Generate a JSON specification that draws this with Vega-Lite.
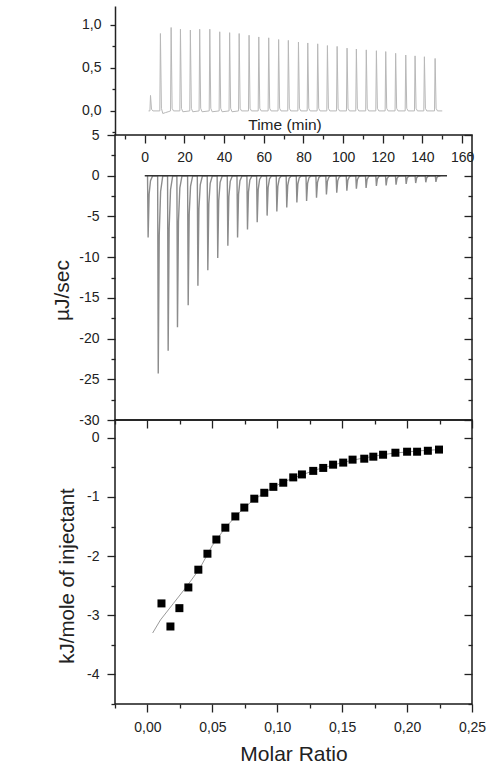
{
  "$schema": "https://vega.github.io/schema/vega-lite/v6.json",
  "background": "white",
  "padding": {"left": 50, "top": 6, "right": 5, "bottom": 5},
  "spacing": 0,
  "bounds": "flush",
  "config": {
    "font": "Liberation Sans",
    "view": {"stroke": "#1a1a1a", "strokeWidth": 1.5},
    "axis": {"labelFont": "Liberation Sans", "titleFont": "Liberation Sans", "labelFontSize": 14, "labelColor": "#222", "titleColor": "#222", "titleFontWeight": "normal", "tickColor": "#222", "tickWidth": 1.3, "domainColor": "#222", "domainWidth": 1.5, "grid": false, "labelFlush": false, "labelOverlap": false}
  },
  "datasets": {
    "raw": [
      {"t":1.9,"v":0},
      {"t":2.6,"v":0},{"t":2.9,"v":0.18},{"t":3.4,"v":0.02},{"t":4.1,"v":0},
      {"t":7.6,"v":0},{"t":7.9,"v":0.90},{"t":8.4,"v":0.03},{"t":9.1,"v":-0.03},{"t":10.4,"v":-0.02},{"t":11.8,"v":-0.01},
      {"t":13.0,"v":0},{"t":13.3,"v":0.97},{"t":13.8,"v":0.03},{"t":14.5,"v":0},
      {"t":17.7,"v":0},{"t":18.0,"v":0.95},{"t":18.5,"v":0.03},{"t":19.2,"v":-0.01},
      {"t":22.7,"v":0},{"t":23.0,"v":0.94},{"t":23.5,"v":0.03},{"t":24.2,"v":-0.01},
      {"t":27.4,"v":0},{"t":27.7,"v":0.95},{"t":28.2,"v":0.03},{"t":28.9,"v":-0.01},
      {"t":32.5,"v":0},{"t":32.8,"v":0.95},{"t":33.3,"v":0.03},{"t":34.0,"v":-0.01},
      {"t":37.5,"v":0},{"t":37.8,"v":0.92},{"t":38.3,"v":0.03},{"t":39.0,"v":-0.01},
      {"t":42.5,"v":0},{"t":42.8,"v":0.91},{"t":43.3,"v":0.03},{"t":44.0,"v":-0.01},
      {"t":47.3,"v":0},{"t":47.6,"v":0.90},{"t":48.1,"v":0.03},{"t":48.8,"v":0},
      {"t":52.3,"v":0},{"t":52.6,"v":0.88},{"t":53.1,"v":0.03},{"t":53.8,"v":0},
      {"t":57.2,"v":0},{"t":57.5,"v":0.86},{"t":58.0,"v":0.03},{"t":58.7,"v":0},
      {"t":62.2,"v":0},{"t":62.5,"v":0.85},{"t":63.0,"v":0.03},{"t":63.7,"v":0},
      {"t":67.2,"v":0},{"t":67.5,"v":0.83},{"t":68.0,"v":0.03},{"t":68.7,"v":0},
      {"t":72.1,"v":0},{"t":72.4,"v":0.82},{"t":72.9,"v":0.03},{"t":73.6,"v":0},
      {"t":77.2,"v":0},{"t":77.5,"v":0.80},{"t":78.0,"v":0.03},{"t":78.7,"v":0},
      {"t":81.9,"v":0},{"t":82.2,"v":0.79},{"t":82.7,"v":0.03},{"t":83.4,"v":0},
      {"t":86.9,"v":0},{"t":87.2,"v":0.78},{"t":87.7,"v":0.03},{"t":88.4,"v":0},
      {"t":91.8,"v":0},{"t":92.1,"v":0.76},{"t":92.6,"v":0.03},{"t":93.3,"v":0},
      {"t":96.7,"v":0},{"t":97.0,"v":0.75},{"t":97.5,"v":0.03},{"t":98.2,"v":0},
      {"t":101.7,"v":0},{"t":102.0,"v":0.73},{"t":102.5,"v":0.03},{"t":103.2,"v":0},
      {"t":106.4,"v":0},{"t":106.7,"v":0.72},{"t":107.2,"v":0.03},{"t":107.9,"v":0},
      {"t":111.4,"v":0},{"t":111.7,"v":0.71},{"t":112.2,"v":0.03},{"t":112.9,"v":0},
      {"t":116.5,"v":0},{"t":116.8,"v":0.70},{"t":117.3,"v":0.03},{"t":118.0,"v":0},
      {"t":121.2,"v":0},{"t":121.5,"v":0.69},{"t":122.0,"v":0.03},{"t":122.7,"v":0},
      {"t":126.2,"v":0},{"t":126.5,"v":0.67},{"t":127.0,"v":0.03},{"t":127.7,"v":0},
      {"t":131.3,"v":0},{"t":131.6,"v":0.65},{"t":132.1,"v":0.03},{"t":132.8,"v":0},
      {"t":136.0,"v":0},{"t":136.3,"v":0.64},{"t":136.8,"v":0.03},{"t":137.5,"v":0},
      {"t":140.7,"v":0},{"t":141.0,"v":0.63},{"t":141.5,"v":0.03},{"t":142.2,"v":0},
      {"t":146.1,"v":0},{"t":146.4,"v":0.61},{"t":146.9,"v":0.03},{"t":147.6,"v":0},
      {"t":150.0,"v":0}
    ],
    "spikes": [
      {"t":1.4,"v":0},{"t":1.7,"v":-7.6},{"t":2.2,"v":-2.28},{"t":2.9,"v":-0.61},{"t":4.0,"v":0},
      {"t":6.5,"v":0},{"t":6.8,"v":-24.3},{"t":7.3,"v":-7.29},{"t":8.0,"v":-1.94},{"t":9.1,"v":0},
      {"t":11.5,"v":0},{"t":11.8,"v":-21.5},{"t":12.3,"v":-6.45},{"t":13.0,"v":-1.72},{"t":14.1,"v":0},
      {"t":16.2,"v":0},{"t":16.5,"v":-18.6},{"t":17.0,"v":-5.58},{"t":17.7,"v":-1.49},{"t":18.8,"v":0},
      {"t":21.6,"v":0},{"t":21.9,"v":-15.9},{"t":22.4,"v":-4.77},{"t":23.1,"v":-1.27},{"t":24.2,"v":0},
      {"t":26.5,"v":0},{"t":26.8,"v":-13.5},{"t":27.3,"v":-4.05},{"t":28.0,"v":-1.08},{"t":29.1,"v":0},
      {"t":31.5,"v":0},{"t":31.8,"v":-11.6},{"t":32.3,"v":-3.48},{"t":33.0,"v":-0.93},{"t":34.1,"v":0},
      {"t":36.5,"v":0},{"t":36.8,"v":-10.1},{"t":37.3,"v":-3.03},{"t":38.0,"v":-0.81},{"t":39.1,"v":0},
      {"t":41.6,"v":0},{"t":41.9,"v":-8.6},{"t":42.4,"v":-2.58},{"t":43.1,"v":-0.69},{"t":44.2,"v":0},
      {"t":46.5,"v":0},{"t":46.8,"v":-7.6},{"t":47.3,"v":-2.28},{"t":48.0,"v":-0.61},{"t":49.1,"v":0},
      {"t":51.5,"v":0},{"t":51.8,"v":-6.6},{"t":52.3,"v":-1.98},{"t":53.0,"v":-0.53},{"t":54.1,"v":0},
      {"t":56.4,"v":0},{"t":56.7,"v":-5.7},{"t":57.2,"v":-1.71},{"t":57.9,"v":-0.46},{"t":59.0,"v":0},
      {"t":61.4,"v":0},{"t":61.7,"v":-4.9},{"t":62.2,"v":-1.47},{"t":62.9,"v":-0.39},{"t":64.0,"v":0},
      {"t":66.3,"v":0},{"t":66.6,"v":-4.4},{"t":67.1,"v":-1.32},{"t":67.8,"v":-0.35},{"t":68.9,"v":0},
      {"t":71.3,"v":0},{"t":71.6,"v":-3.9},{"t":72.1,"v":-1.17},{"t":72.8,"v":-0.31},{"t":73.9,"v":0},
      {"t":76.4,"v":0},{"t":76.7,"v":-3.3},{"t":77.2,"v":-0.99},{"t":77.9,"v":-0.26},{"t":79.0,"v":0},
      {"t":81.3,"v":0},{"t":81.6,"v":-3.1},{"t":82.1,"v":-0.93},{"t":82.8,"v":-0.25},{"t":83.9,"v":0},
      {"t":86.3,"v":0},{"t":86.6,"v":-2.7},{"t":87.1,"v":-0.81},{"t":87.8,"v":-0.22},{"t":88.9,"v":0},
      {"t":91.3,"v":0},{"t":91.6,"v":-2.3},{"t":92.1,"v":-0.69},{"t":92.8,"v":-0.18},{"t":93.9,"v":0},
      {"t":96.5,"v":0},{"t":96.8,"v":-2.1},{"t":97.3,"v":-0.63},{"t":98.0,"v":-0.17},{"t":99.1,"v":0},
      {"t":101.6,"v":0},{"t":101.9,"v":-1.85},{"t":102.4,"v":-0.56},{"t":103.1,"v":-0.15},{"t":104.2,"v":0},
      {"t":106.4,"v":0},{"t":106.7,"v":-1.6},{"t":107.2,"v":-0.48},{"t":107.9,"v":-0.13},{"t":109.0,"v":0},
      {"t":111.3,"v":0},{"t":111.6,"v":-1.5},{"t":112.1,"v":-0.45},{"t":112.8,"v":-0.12},{"t":113.9,"v":0},
      {"t":116.5,"v":0},{"t":116.8,"v":-1.25},{"t":117.3,"v":-0.38},{"t":118.0,"v":-0.1},{"t":119.1,"v":0},
      {"t":121.4,"v":0},{"t":121.7,"v":-1.2},{"t":122.2,"v":-0.36},{"t":122.9,"v":-0.1},{"t":124.0,"v":0},
      {"t":126.4,"v":0},{"t":126.7,"v":-1.1},{"t":127.2,"v":-0.33},{"t":127.9,"v":-0.09},{"t":129.0,"v":0},
      {"t":131.5,"v":0},{"t":131.8,"v":-1.0},{"t":132.3,"v":-0.3},{"t":133.0,"v":-0.08},{"t":134.1,"v":0},
      {"t":136.3,"v":0},{"t":136.6,"v":-0.9},{"t":137.1,"v":-0.27},{"t":137.8,"v":-0.07},{"t":138.9,"v":0},
      {"t":141.4,"v":0},{"t":141.7,"v":-0.8},{"t":142.2,"v":-0.24},{"t":142.9,"v":-0.06},{"t":144.0,"v":0},
      {"t":146.5,"v":0},{"t":146.8,"v":-0.75},{"t":147.3,"v":-0.23},{"t":148.0,"v":-0.06},{"t":149.1,"v":0}
    ],
    "baseline": [{"t":0,"v":0},{"t":152.4,"v":0}],
    "points": [
      {"m":0.0108,"k":-2.80},{"m":0.0177,"k":-3.19},{"m":0.0246,"k":-2.88},{"m":0.0315,"k":-2.53},
      {"m":0.0392,"k":-2.23},{"m":0.0462,"k":-1.96},{"m":0.0531,"k":-1.72},{"m":0.0600,"k":-1.52},
      {"m":0.0677,"k":-1.33},{"m":0.0746,"k":-1.18},{"m":0.0823,"k":-1.03},{"m":0.0900,"k":-0.93},
      {"m":0.0970,"k":-0.83},{"m":0.1046,"k":-0.76},{"m":0.1123,"k":-0.67},{"m":0.1190,"k":-0.62},
      {"m":0.1277,"k":-0.56},{"m":0.1354,"k":-0.51},{"m":0.1430,"k":-0.455},{"m":0.1508,"k":-0.42},
      {"m":0.1580,"k":-0.37},{"m":0.1670,"k":-0.354},{"m":0.1740,"k":-0.32},{"m":0.1815,"k":-0.287},
      {"m":0.1910,"k":-0.253},{"m":0.2000,"k":-0.236},{"m":0.2077,"k":-0.236},{"m":0.2160,"k":-0.22},
      {"m":0.2246,"k":-0.20}
    ],
    "fit": [
      {"m":0.004,"k":-3.30},{"m":0.01,"k":-3.08},{"m":0.02,"k":-2.80},{"m":0.03,"k":-2.52},
      {"m":0.04,"k":-2.22},{"m":0.05,"k":-1.82},{"m":0.06,"k":-1.52},{"m":0.07,"k":-1.28},
      {"m":0.08,"k":-1.08},{"m":0.09,"k":-0.93},{"m":0.10,"k":-0.80},{"m":0.11,"k":-0.70},
      {"m":0.12,"k":-0.62},{"m":0.13,"k":-0.54},{"m":0.14,"k":-0.48},{"m":0.15,"k":-0.42},
      {"m":0.16,"k":-0.37},{"m":0.17,"k":-0.33},{"m":0.18,"k":-0.29},{"m":0.19,"k":-0.26},
      {"m":0.20,"k":-0.24},{"m":0.21,"k":-0.22},{"m":0.225,"k":-0.20}
    ]
  },
  "vconcat": [
    {
      "width": 357,
      "height": 129,
      "view": {"stroke": null},
      "data": {"name": "raw"},
      "mark": {"type": "line", "color": "#b8b8b8", "strokeWidth": 1},
      "encoding": {
        "x": {"field": "t", "type": "quantitative", "scale": {"domain": [-15, 165], "nice": false, "zero": false},
          "axis": {"orient": "bottom", "domain": false, "ticks": false, "labels": false, "title": "Time (min)", "titleFontSize": 15.5, "titleX": 169.5, "titleY": -5.5, "titleBaseline": "alphabetic", "titleAlign": "center"}},
        "y": {"field": "v", "type": "quantitative", "scale": {"domain": [-0.28, 1.22], "nice": false, "zero": false},
          "axis": {"orient": "left", "domain": true, "title": null, "values": [-0.25, 0, 0.25, 0.5, 0.75, 1],
            "tickSize": {"condition": {"test": "abs(round(datum.value*4)) % 2 === 0", "value": 5}, "value": 3},
            "labelExpr": "abs(round(datum.value*4)) % 2 === 0 ? replace(format(datum.value, '.1f'), '.', ',') : ''",
            "labelPadding": 9}}
      }
    },
    {
      "width": 357,
      "height": 285,
      "layer": [
        {
          "data": {"name": "spikes"},
          "mark": {"type": "line", "color": "#8c8c8c", "strokeWidth": 1.4},
          "encoding": {
            "x": {"field": "t", "type": "quantitative", "scale": {"domain": [-15, 165], "nice": false, "zero": false},
              "axis": {"orient": "top", "domain": false, "title": null,
                "values": [-10, 0, 10, 20, 30, 40, 50, 60, 70, 80, 90, 100, 110, 120, 130, 140, 150, 160],
                "tickSize": {"condition": {"test": "datum.value % 20 === 0", "value": -8}, "value": -4},
                "labelExpr": "datum.value % 20 === 0 ? '' + datum.value : ''",
                "labelBaseline": "middle", "labelPadding": -14}},
            "y": {"field": "v", "type": "quantitative", "scale": {"domain": [-30, 5], "nice": false, "zero": false},
              "axis": {"orient": "left", "domain": false, "title": "µJ/sec", "titleFontSize": 21, "titleX": -47, "titleY": 155, "titleBaseline": "alphabetic", "titleAlign": "center",
                "values": [5, 2.5, 0, -2.5, -5, -7.5, -10, -12.5, -15, -17.5, -20, -22.5, -25, -27.5, -30],
                "tickSize": {"condition": {"test": "datum.value % 5 === 0", "value": 8}, "value": 4},
                "labelExpr": "datum.value % 5 === 0 ? '' + datum.value : ''",
                "labelPadding": 8}}
          }
        },
        {
          "data": {"name": "baseline"},
          "mark": {"type": "line", "color": "#333333", "strokeWidth": 1.6},
          "encoding": {
            "x": {"field": "t", "type": "quantitative", "scale": {"domain": [-15, 165], "nice": false, "zero": false}, "axis": null},
            "y": {"field": "v", "type": "quantitative", "scale": {"domain": [-30, 5], "nice": false, "zero": false},
              "axis": {"orient": "right", "domain": false, "title": null, "labels": false,
                "values": [5, 2.5, 0, -2.5, -5, -7.5, -10, -12.5, -15, -17.5, -20, -22.5, -25, -27.5, -30],
                "tickSize": {"condition": {"test": "datum.value % 5 === 0", "value": -8}, "value": -4}}}
          }
        }
      ],
      "resolve": {"axis": {"x": "independent", "y": "independent"}}
    },
    {
      "width": 357,
      "height": 284,
      "layer": [
        {
          "data": {"name": "fit"},
          "mark": {"type": "line", "color": "#9a9a9a", "strokeWidth": 1},
          "encoding": {
            "x": {"field": "m", "type": "quantitative", "scale": {"domain": [-0.025, 0.25], "nice": false, "zero": false},
              "axis": {"orient": "top", "domain": false, "title": null, "labels": false,
                "values": [-0.025, 0, 0.025, 0.05, 0.075, 0.1, 0.125, 0.15, 0.175, 0.2, 0.225, 0.25],
                "tickSize": {"condition": {"test": "abs(round(datum.value*40)) % 2 === 0", "value": -8}, "value": -4}}},
            "y": {"field": "k", "type": "quantitative", "scale": {"domain": [-4.5, 0.3], "nice": false, "zero": false},
              "axis": {"orient": "right", "domain": false, "title": null, "labels": false,
                "values": [0, -0.5, -1, -1.5, -2, -2.5, -3, -3.5, -4, -4.5],
                "tickSize": {"condition": {"test": "datum.value % 1 === 0", "value": -8}, "value": -4}}}
          }
        },
        {
          "data": {"name": "points"},
          "mark": {"type": "point", "shape": "square", "filled": true, "size": 64, "color": "#000000", "opacity": 1},
          "encoding": {
            "x": {"field": "m", "type": "quantitative", "scale": {"domain": [-0.025, 0.25], "nice": false, "zero": false},
              "axis": {"orient": "bottom", "domain": false, "title": "Molar Ratio", "titleFontSize": 21, "titleY": 56, "titleBaseline": "alphabetic",
                "values": [-0.025, 0, 0.025, 0.05, 0.075, 0.1, 0.125, 0.15, 0.175, 0.2, 0.225, 0.25],
                "tickSize": {"condition": {"test": "abs(round(datum.value*40)) % 2 === 0", "value": 8}, "value": 4},
                "labelExpr": "abs(round(datum.value*40)) % 2 === 0 ? replace(format(datum.value, '.2f'), '.', ',') : ''",
                "labelPadding": 8}},
            "y": {"field": "k", "type": "quantitative", "scale": {"domain": [-4.5, 0.3], "nice": false, "zero": false},
              "axis": {"orient": "left", "domain": false, "title": "kJ/mole of injectant", "titleFontSize": 20.5, "titleX": -42, "titleY": 155.5, "titleBaseline": "alphabetic", "titleAlign": "center",
                "values": [0, -0.5, -1, -1.5, -2, -2.5, -3, -3.5, -4, -4.5],
                "tickSize": {"condition": {"test": "datum.value % 1 === 0", "value": 8}, "value": 4},
                "labelExpr": "datum.value % 1 === 0 ? '' + datum.value : ''",
                "labelPadding": 8}}
          }
        }
      ],
      "resolve": {"axis": {"x": "independent", "y": "independent"}}
    }
  ]
}
